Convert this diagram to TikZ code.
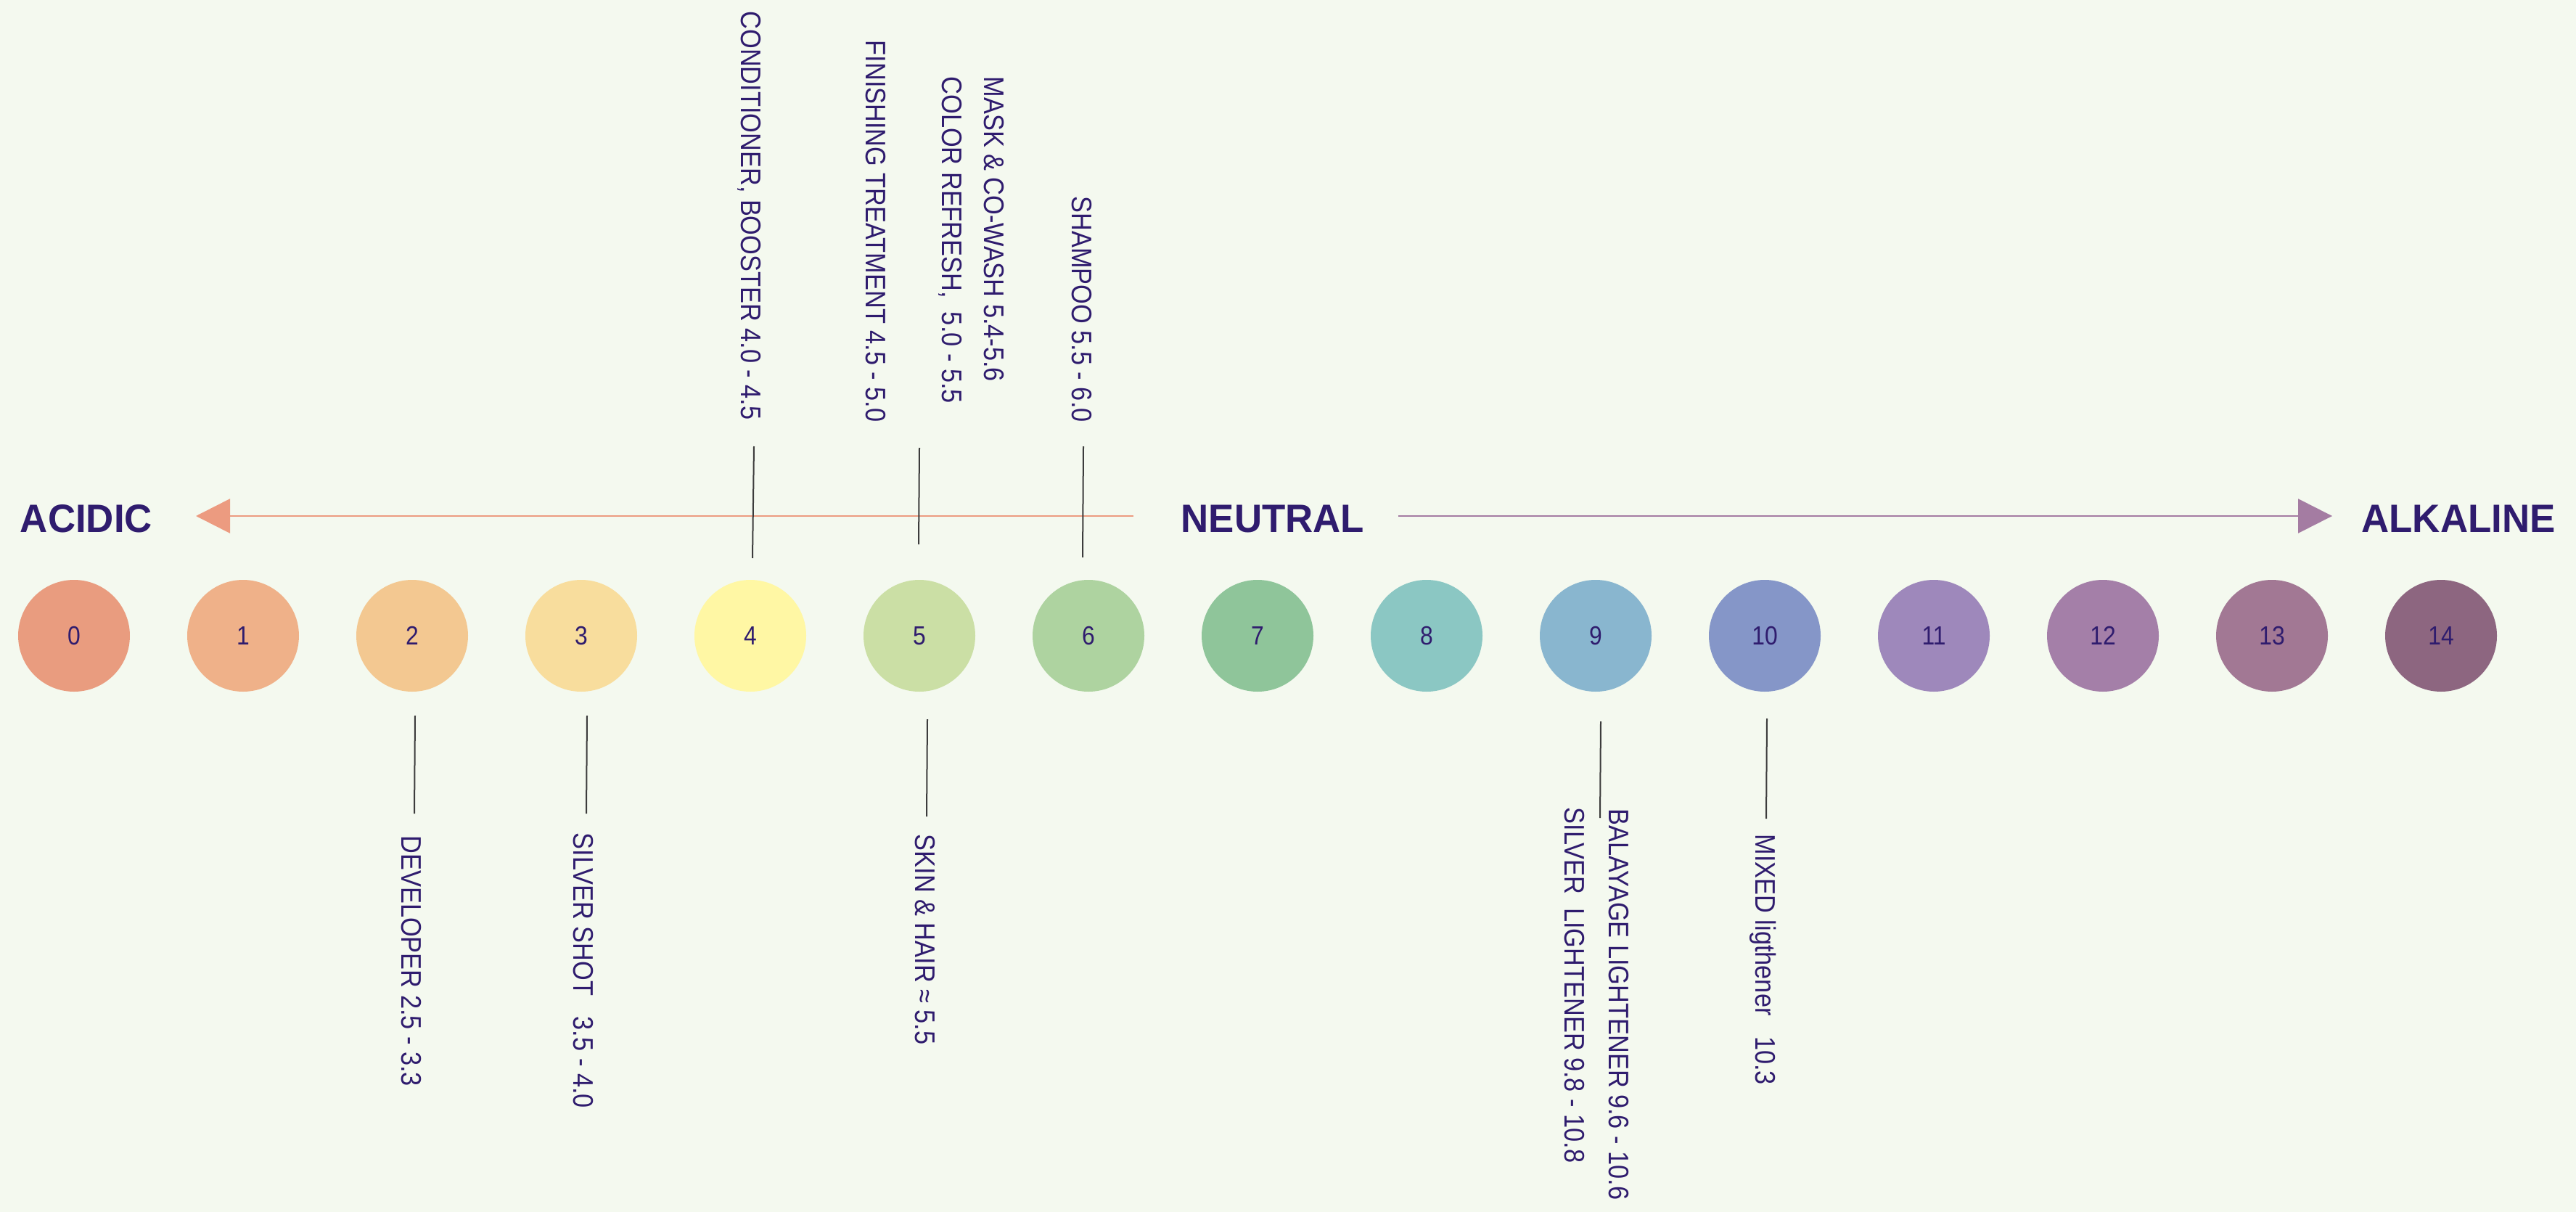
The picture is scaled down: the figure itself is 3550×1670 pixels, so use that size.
\documentclass[tikz,border=0pt]{standalone}
\usepackage{fontspec}
\setmainfont{Liberation Sans}
\newfontfamily\lblfont[FakeStretch=0.88]{Liberation Sans}
\newfontfamily\headfont[FakeStretch=0.97]{Liberation Sans}
\usepackage{tikz}
\usetikzlibrary{arrows.meta,positioning}
\definecolor{bgpage}{HTML}{F4F9EF}
\definecolor{ink}{HTML}{2F1C6E}
\definecolor{leadgray}{HTML}{3C3C3C}
\definecolor{acidline}{HTML}{EC9B80}
\definecolor{alkline}{HTML}{A47CA2}
\definecolor{ph0}{HTML}{E99C7F}
\definecolor{ph1}{HTML}{EFB189}
\definecolor{ph2}{HTML}{F3C891}
\definecolor{ph3}{HTML}{F8DD9D}
\definecolor{ph4}{HTML}{FFF7A4}
\definecolor{ph5}{HTML}{CBDFA5}
\definecolor{ph6}{HTML}{AED3A0}
\definecolor{ph7}{HTML}{8FC59A}
\definecolor{ph8}{HTML}{8BC7C3}
\definecolor{ph9}{HTML}{89B6CF}
\definecolor{ph10}{HTML}{8596C8}
\definecolor{ph11}{HTML}{9E88BB}
\definecolor{ph12}{HTML}{A47FA8}
\definecolor{ph13}{HTML}{A27894}
\definecolor{ph14}{HTML}{8D6680}
\tikzset{
  phdot/.style={circle,inner sep=0pt,minimum size=15.4mm,text=ink,
    font=\lblfont\fontsize{10.3}{12}\selectfont},
  prod/.style={rotate=-90,anchor=base west,inner sep=0pt,text=ink,
    font=\lblfont\fontsize{11.1}{13}\selectfont},
  side/.style={text=ink,inner sep=0pt,font=\headfont\bfseries\fontsize{15.5}{18}\selectfont},
  leader/.style={draw=leadgray,line width=0.2mm},
  phtip/.style={line width=0.27mm,-{Triangle[length=4.7mm,width=4.7mm]}}
}

\begin{document}
\begin{tikzpicture}[x=0.1mm,y=-0.1mm]
 \fill[bgpage] (0,0) rectangle (3550,1670);
 \foreach \i in {0,...,14}
   \node[phdot,fill=ph\i] (p\i) at (102+233*\i,876) {\i};

 \node[side] (acid) at (119,715) {ACIDIC};
 \node[side] (neutral) at (1754,715) {NEUTRAL};
 \node[side] (alk) at (3388,715) {ALKALINE};
 \coordinate (acidS) at (1562,711);
 \coordinate (acidT) at (270,711);
 \coordinate (alkS) at (1927,711);
 \coordinate (alkT) at (3214,711);
 \draw[phtip,acidline] (acidS) -- (acidT);
 \draw[phtip,alkline] (alkS) -- (alkT);

 \node[prod] (cond) at (1021,15) {CONDITIONER, BOOSTER 4.0 - 4.5};
 \node[prod] (finish) at (1193,55) {FINISHING TREATMENT 4.5 - 5.0};
 \node[prod] (refresh) at (1298,105) {COLOR REFRESH,\ \ 5.0 - 5.5};
 \node[prod] (mask) at (1356,105) {MASK \& CO-WASH 5.4-5.6};
 \node[prod] (shampoo) at (1477,270) {SHAMPOO 5.5 - 6.0};

 \node[prod] (devel) at (553,1151) {DEVELOPER 2.5 - 3.3};
 \node[prod] (silvshot) at (790,1147) {SILVER SHOT\ \ \ 3.5 - 4.0};
 \node[prod] (skin) at (1261,1149) {SKIN \& HAIR ≈ 5.5};
 \node[prod] (silvlight) at (2156,1112) {SILVER\ \ LIGHTENER 9.8 - 10.8};
 \node[prod] (balay) at (2217,1114) {BALAYAGE LIGHTENER 9.6 - 10.6};
 \node[prod] (mixed) at (2419,1149) {MIXED ligthener\ \ \ 10.3};

 \foreach \n/\xa/\ya/\xb/\yb in {cond/1039/615/1037/769,refresh/1267/617/1266/750,
   shampoo/1493/615/1492/768,devel/572/986/571/1121,silvshot/809/986/808/1121,
   skin/1278/991/1277/1125,balay/2206/994/2205/1127,mixed/2435/990/2434/1128}{
   \coordinate (\n-a) at (\xa,\ya);
   \coordinate (\n-b) at (\xb,\yb);
   \draw[leader] (\n-a) -- (\n-b);
 }
\end{tikzpicture}
\end{document}
